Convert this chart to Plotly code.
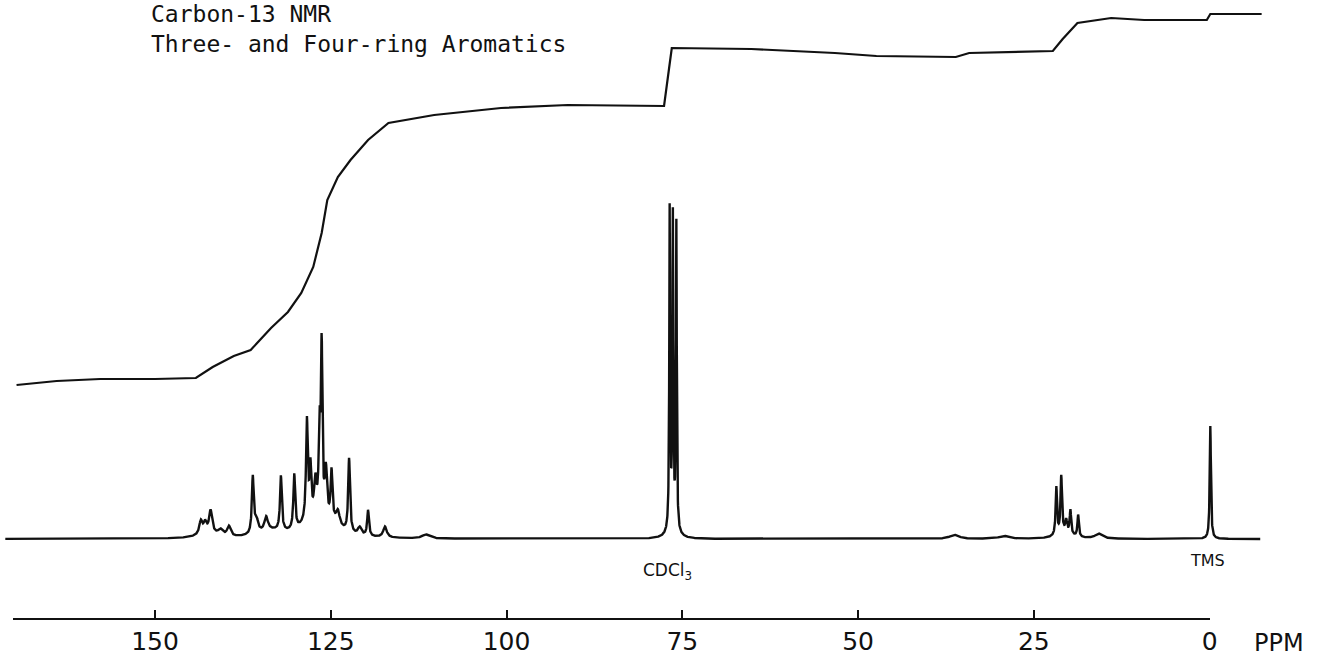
import numpy as np
import plotly.graph_objects as go

# ---------------- data ----------------
# chemical-shift scale (ppm)
scale_ticks = [150, 125, 100, 75, 50, 25, 0]
scale_labels = ["150", "125", "100", "75", "50", "25", "0"]

# resolved peaks: position (ppm), height (arb. units), half-width (ppm)
peak_ppm = [143.5, 142.9, 142.1, 140.7, 139.5, 136.1, 135.6, 134.2, 132.1, 130.2,
            128.4, 127.9, 127.2, 126.6, 126.3, 125.7, 124.9, 124.0, 122.4, 120.9,
            119.7, 117.3, 111.5,
            76.8, 76.35, 75.85,
            36.3, 29.3,
            21.8, 21.1, 20.4, 19.8, 18.7, 15.8,
            -0.1]
peak_height = [13, 10, 22, 6, 10, 56, 14, 14, 55, 55,
               100, 50, 35, 85, 165, 50, 50, 14, 74, 8,
               26, 11, 4,
               318, 305, 305,
               4, 3,
               48, 57, 12, 24, 22, 5,
               113]
peak_width = [0.25, 0.25, 0.25, 0.4, 0.3, 0.15, 0.3, 0.3, 0.15, 0.15,
              0.15, 0.15, 0.2, 0.15, 0.12, 0.2, 0.15, 0.3, 0.15, 0.3,
              0.15, 0.3, 0.6,
              0.07, 0.07, 0.07,
              0.8, 0.8,
              0.12, 0.12, 0.15, 0.12, 0.12, 0.6,
              0.1]

# broad underlying humps
hump_ppm = [142.5, 133.5, 127.5, 124.5, 76.4, 20.6]
hump_height = [5, 6, 16, 8, 14, 6]
hump_width = [1.5, 2.0, 2.2, 1.5, 0.6, 1.2]

# integral trace (ppm, level)
integral_ppm = [169.7, 164.0, 157.8, 150.0, 144.2, 141.8, 138.8, 136.4, 133.5, 131.1,
                129.2, 127.5, 126.3, 125.5, 124.0, 122.2, 119.7, 116.8, 110.3, 100.8,
                91.3, 77.6, 76.9, 76.5, 65.2, 53.3, 47.4, 36.1, 34.2, 22.3,
                20.9, 18.8, 14.0, 9.3, 0.4, -0.1, -7.4]
integral_level = [154, 158, 160, 160, 161, 172, 183, 189, 211, 227,
                  246, 272, 306, 339, 362, 379, 399, 416, 424, 431,
                  434, 433, 470, 491, 490, 486, 483, 482, 486, 488,
                  500, 516, 521, 519, 519, 525, 525]

# spectrum extent (ppm)
spec_start, spec_end = 171.3, -7.2

# ---------------- build spectrum from the peak list ----------------
ppm = np.linspace(spec_start, spec_end, 9000)
spec = np.zeros_like(ppm)
for p, h, w in zip(peak_ppm + hump_ppm, peak_height + hump_height, peak_width + hump_width):
    spec += h * w**2 / ((ppm - p) ** 2 + w**2)

fig = go.Figure()

fig.add_trace(go.Scatter(x=ppm, y=spec, mode="lines",
                         line=dict(color="#111111", width=2.4),
                         xaxis="x", yaxis="y", hoverinfo="skip", showlegend=False))

fig.add_trace(go.Scatter(x=integral_ppm, y=integral_level, mode="lines",
                         line=dict(color="#111111", width=2.2),
                         xaxis="x", yaxis="y", hoverinfo="skip", showlegend=False))

# carrier trace for the ppm scale axis
fig.add_trace(go.Scatter(x=scale_ticks, y=[-500] * len(scale_ticks), mode="markers",
                         marker=dict(size=1, color="rgba(0,0,0,0)"),
                         xaxis="x2", yaxis="y", hoverinfo="skip", showlegend=False))

W, H = 1318, 661
px_per_ppm = (1217 - 156) / 150.0
x_left = 1217 / px_per_ppm
x_right = (1217 - W) / px_per_ppm

fig.update_layout(
    width=W, height=H,
    margin=dict(l=0, r=0, t=0, b=0),
    paper_bgcolor="white", plot_bgcolor="rgba(0,0,0,0)",
    xaxis=dict(range=[x_left, x_right], visible=False, domain=[0, 1]),
    yaxis=dict(range=[-122, 539], visible=False, domain=[0, 1]),
    xaxis2=dict(
        domain=[13 / W, 1217 / W],
        range=[(1217 - 13) / px_per_ppm, 0],
        anchor="free", position=(H - 619) / H,
        showline=True, linecolor="#111111", linewidth=2,
        ticks="inside", ticklen=8, tickwidth=2, tickcolor="#111111",
        tickvals=scale_ticks, ticktext=scale_labels,
        tickfont=dict(family="DejaVu Sans", size=25, color="#111111"),
        showgrid=False, zeroline=False,
    ),
    showlegend=False,
)

def ann(text, xpx, ypx, size, family="DejaVu Sans", xanchor="center", align="center"):
    fig.add_annotation(text=text, x=xpx / W, y=1 - ypx / H, xref="paper", yref="paper",
                       xanchor=xanchor, yanchor="middle", showarrow=False, align=align,
                       font=dict(family=family, size=size, color="#111111"))

ann("Carbon-13 NMR<br>Three- and Four-ring Aromatics", 150, 29, 23,
    family="DejaVu Sans Mono", xanchor="left", align="left")
ann("CDCl<sub>3</sub>", 672, 571, 17)
ann("TMS", 1215, 560, 16)
ann("PPM", 1287, 643, 24)

fig.write_html("out.html",
               config={"displayModeBar": False},
               post_script="document.body.style.margin='0';document.body.style.overflow='hidden';")
